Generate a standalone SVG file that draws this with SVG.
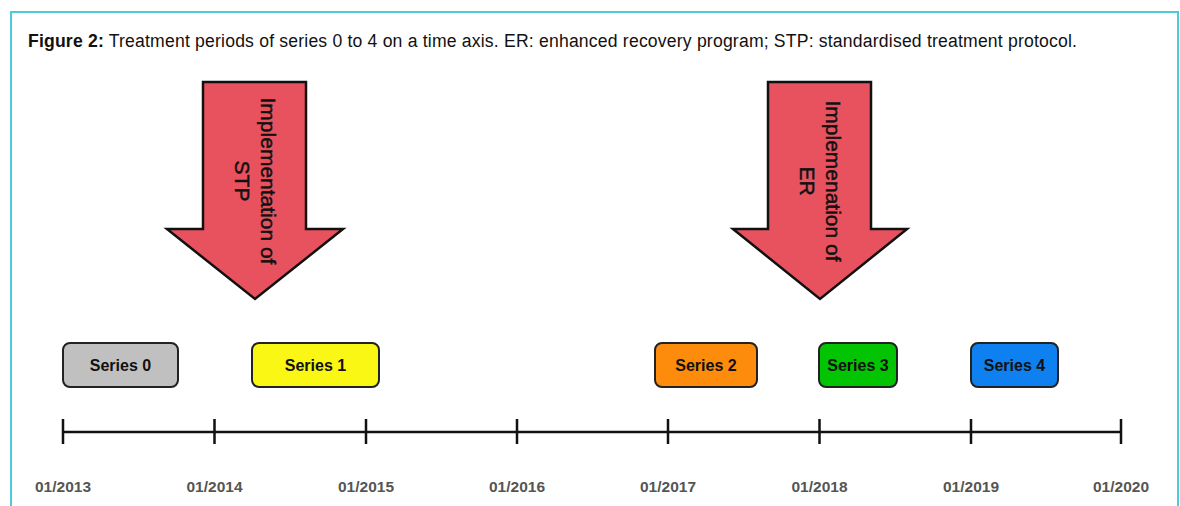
<svg xmlns="http://www.w3.org/2000/svg" width="1180" height="506" viewBox="0 0 1180 506">
<style>
.cap{font-family:"Liberation Sans",Arial,sans-serif;font-size:17.6px;fill:#111}
.arrow{fill:#e8525f;stroke:#111;stroke-width:2.5;stroke-linejoin:miter}
.atxt{font-family:"Liberation Sans",Arial,sans-serif;font-size:21px;fill:#111;stroke:#111;stroke-width:0.5;text-anchor:middle}
.box{stroke:#222;stroke-width:2}
.btxt{font-family:"Liberation Sans",Arial,sans-serif;font-size:16px;font-weight:bold;fill:#111;text-anchor:middle}
.axis{stroke:#111;stroke-width:2.5;fill:none}
.date{font-family:"Liberation Sans",Arial,sans-serif;font-size:15.5px;font-weight:bold;fill:#555;text-anchor:middle}
</style>
<rect x="0" y="0" width="1180" height="506" fill="#fff"/>
<rect x="11" y="12" width="1167" height="520" fill="none" stroke="#4fcadb" stroke-width="2"/>
<text class="cap" x="28" y="47" textLength="1049" lengthAdjust="spacing"><tspan font-weight="bold">Figure 2:</tspan> Treatment periods of series 0 to 4 on a time axis. ER: enhanced recovery program; STP: standardised treatment protocol.</text>

<g id="arrow-stp">
<polygon class="arrow" points="203,82 306,82 306,229 343,229 255,299 167,229 203,229"/>
<text class="atxt" transform="translate(255,181) rotate(90)"><tspan x="0" y="-6">Implementation of</tspan><tspan x="0" y="20">STP</tspan></text>
</g>
<g id="arrow-er">
<polygon class="arrow" points="768,82 871,82 871,229 907,229 820,299 733,229 768,229"/>
<text class="atxt" transform="translate(820,181) rotate(90)"><tspan x="0" y="-6">Implemenation of</tspan><tspan x="0" y="20">ER</tspan></text>
</g>

<g id="series0"><rect class="box" x="63" y="343" width="115" height="44" rx="7" fill="#c0c0c0"/><text class="btxt" x="120.5" y="370.5">Series 0</text></g>
<g id="series1"><rect class="box" x="252" y="343" width="127" height="44" rx="7" fill="#fbf714"/><text class="btxt" x="315.5" y="370.5">Series 1</text></g>
<g id="series2"><rect class="box" x="655" y="343" width="102" height="44" rx="7" fill="#fd8c0c"/><text class="btxt" x="706" y="370.5">Series 2</text></g>
<g id="series3"><rect class="box" x="819" y="343" width="78" height="44" rx="7" fill="#02c402"/><text class="btxt" x="858" y="370.5">Series 3</text></g>
<g id="series4"><rect class="box" x="971" y="343" width="87" height="44" rx="7" fill="#0f80f0"/><text class="btxt" x="1014.5" y="370.5">Series 4</text></g>

<g id="connectors">
<path class="axis" d="M63,432 H1121 M63,419 V444 M214.5,419 V444 M366,419 V444 M517,419 V444 M668,419 V444 M819.5,419 V444 M971,419 V444 M1121,419 V444"/>
</g>
<g id="dates">
<text class="date" x="63" y="492">01/2013</text>
<text class="date" x="214.5" y="492">01/2014</text>
<text class="date" x="366" y="492">01/2015</text>
<text class="date" x="517" y="492">01/2016</text>
<text class="date" x="668" y="492">01/2017</text>
<text class="date" x="819.5" y="492">01/2018</text>
<text class="date" x="971" y="492">01/2019</text>
<text class="date" x="1121" y="492">01/2020</text>
</g>
</svg>
